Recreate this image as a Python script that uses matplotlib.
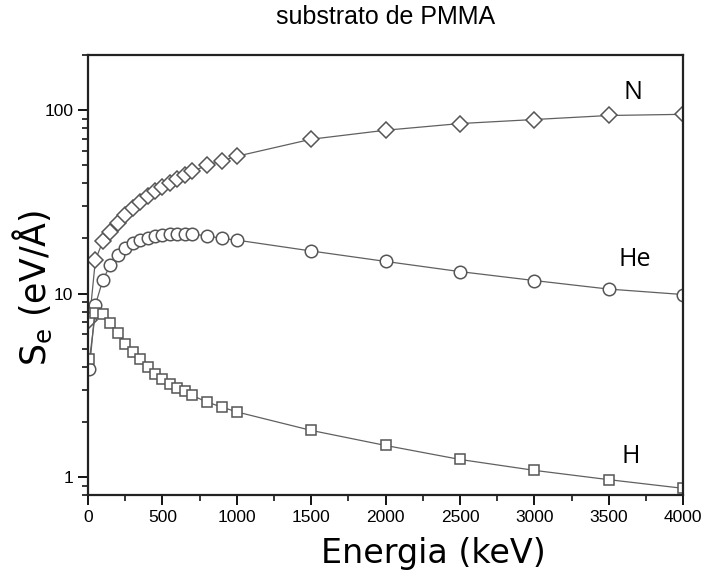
import matplotlib
matplotlib.use("Agg")
import matplotlib.pyplot as plt
from matplotlib.ticker import AutoMinorLocator, LogLocator, FuncFormatter

# energias (keV)
energia = [10, 50, 100, 150, 200, 250, 300, 350, 400, 450, 500, 550, 600, 650,
           700, 800, 900, 1000, 1500, 2000, 2500, 3000, 3500, 4000]

# Se (eV/A)
se_N = [7.2, 15.3, 19.3, 21.8, 24.2, 26.9, 29.3, 31.7, 34.1, 36.2, 38.2, 40.0,
        42.4, 44.2, 46.4, 50.1, 53.1, 56.1, 69.5, 77.8, 84.6, 89.0, 93.6, 95.0]
se_He = [3.9, 8.7, 11.9, 14.3, 16.3, 17.7, 18.8, 19.6, 20.2, 20.7, 20.9, 21.1,
         21.2, 21.2, 21.1, 20.7, 20.0, 19.6, 17.1, 15.0, 13.2, 11.8, 10.6, 9.9]
se_H = [4.4, 7.9, 7.8, 6.9, 6.1, 5.35, 4.8, 4.4, 4.0, 3.67, 3.42, 3.24, 3.06,
        2.94, 2.79, 2.57, 2.41, 2.27, 1.80, 1.49, 1.25, 1.09, 0.97, 0.87]

fig = plt.figure(figsize=(7.05, 5.74), dpi=100)
ax = fig.add_axes([0.1248, 0.1376, 0.8442, 0.7666])

estilo = dict(color="#606060", lw=0.9, mfc="white", mec="#555555", mew=1.1)
ax.plot(energia, se_N, marker="D", ms=8, **estilo)
ax.plot(energia, se_He, marker="o", ms=9, **estilo)
ax.plot(energia, se_H, marker="s", ms=7.5, **estilo)

ax.set_yscale("log")
ax.set_xlim(0, 4000)
ax.set_ylim(0.8, 200)
ax.set_xticks(range(0, 4001, 500))
ax.xaxis.set_minor_locator(AutoMinorLocator(2))
ax.yaxis.set_major_locator(LogLocator(base=10))
ax.yaxis.set_minor_locator(LogLocator(base=10, subs=range(2, 10)))
ax.yaxis.set_major_formatter(FuncFormatter(lambda v, p: "%g" % v))
ax.yaxis.set_minor_formatter(FuncFormatter(lambda v, p: ""))

fonte = "Liberation Sans"
ax.tick_params(which="major", direction="out", length=7, width=1.3,
               labelsize=12.5, top=False, right=False)
ax.tick_params(which="minor", direction="out", length=4, width=1.1,
               top=False, right=False)
for lab in ax.get_xticklabels() + ax.get_yticklabels():
    lab.set_fontfamily(fonte)
for s in ax.spines.values():
    s.set_linewidth(1.6)
    s.set_color("#222222")

ax.set_xlabel("Energia (keV)", fontsize=24, fontfamily="DejaVu Sans", va="center")
ax.xaxis.set_label_coords(0.58, -0.132)
ax.set_ylabel(r"S$_\mathregular{e}$ (eV/Å)", fontsize=25, fontfamily="DejaVu Sans", va="center")
ax.yaxis.set_label_coords(-0.093, 0.47)
ax.set_title("substrato de PMMA", fontsize=18, fontfamily=fonte, pad=22)

ax.text(3660, 125, "N", fontsize=18, fontfamily="Open Sans", ha="center", va="center")
ax.text(3675, 15.3, "He", fontsize=18, fontfamily="Open Sans", ha="center", va="center")
ax.text(3647, 1.29, "H", fontsize=18, fontfamily="Open Sans", ha="center", va="center")

fig.savefig("out.png", dpi=100)
